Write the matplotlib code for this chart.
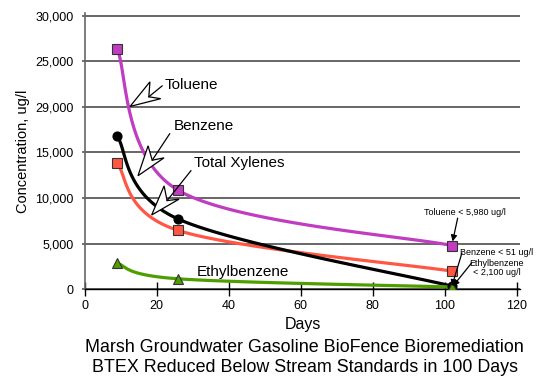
import numpy as np
import matplotlib
matplotlib.use("Agg")
import matplotlib.pyplot as plt
from matplotlib.patches import Polygon

plt.rcParams['font.family'] = ['Liberation Sans', 'DejaVu Sans']

# Sampling days and concentrations (ug/l)
days = [9, 26, 102]
toluene = [26400, 10850, 4800]
benzene = [16800, 7700, 350]
xylenes = [13800, 6450, 2000]
ethylbenzene = [2850, 1150, 250]

ytick_values = [0, 5000, 10000, 15000, 20000, 25000, 30000]
ytick_labels = ["0", "5,000", "10,000", "15,000", "29,000", "25,000", "30,000"]
xtick_values = [0, 20, 40, 60, 80, 100, 120]

XMAX, YMAX = 121, 30350

fig = plt.figure(figsize=(5.38, 3.80), dpi=100)
ax = fig.add_axes([84.7 / 538, (380 - 289.3) / 380, (520.3 - 84.7) / 538, (289.3 - 12.5) / 380])
ax.set_xlim(0, XMAX)
ax.set_ylim(0, YMAX)

W_PX = 520.3 - 84.7
H_PX = 289.3 - 12.5


def smooth(xs, ys, n=60):
    """Bezier smoothing through the points, computed in screen proportions."""
    sx = W_PX / XMAX
    sy = H_PX / YMAX
    P = np.column_stack([np.asarray(xs, float) * sx, np.asarray(ys, float) * sy])
    pts = []
    t = np.linspace(0, 1, n)[:, None]
    for i in range(len(P) - 1):
        p0, p3 = P[i], P[i + 1]
        prev = P[i - 1] if i > 0 else P[i]
        nxt = P[i + 2] if i + 2 < len(P) else P[i + 1]
        c1 = p0 + (p3 - prev) / 6
        c2 = p3 - (nxt - p0) / 6
        seg = ((1 - t) ** 3) * p0 + 3 * ((1 - t) ** 2) * t * c1 + 3 * (1 - t) * t ** 2 * c2 + t ** 3 * p3
        pts.append(seg if i == 0 else seg[1:])
    pts = np.vstack(pts)
    return pts[:, 0] / sx, pts[:, 1] / sy


# grid
for v in ytick_values:
    ax.axhline(v, color="#5a5a5a", lw=1.3, zorder=1)

series = [
    (toluene, "#C03CC0", "s", "#C03CC0"),
    (xylenes, "#FF5744", "s", "#FF5744"),
    (benzene, "#000000", "o", "#000000"),
    (ethylbenzene, "#4E9E00", "^", "#4E9E00"),
]
for vals, col, mk, fc in series:
    sx_, sy_ = smooth(days, vals)
    ax.plot(sx_, sy_, color=col, lw=2.3, zorder=3, solid_capstyle="round")
    ax.plot(days, vals, ls="none", marker=mk, ms=6.5 if mk != "^" else 7,
            mfc=fc, mec="#333333" if mk != "o" else "#000000", mew=0.8, zorder=4)

# axes styling
for s in ["top", "right"]:
    ax.spines[s].set_visible(False)
ax.spines["left"].set_color("#666666")
ax.spines["left"].set_linewidth(1.2)
ax.spines["bottom"].set_color("#000000")
ax.spines["bottom"].set_linewidth(1.0)

ax.set_yticks(ytick_values)
ax.set_yticklabels(ytick_labels)
ax.set_xticks(xtick_values)
ax.tick_params(axis="y", direction="out", length=2, width=1.2, color="#5a5a5a",
               labelsize=9, pad=6)
ax.tick_params(axis="x", direction="inout", length=10, width=1.0, color="#000000",
               labelsize=9, pad=3)

ax.set_xlabel("Days", fontsize=11.5, labelpad=3)
ax.set_ylabel("Concentration, ug/l", fontsize=10.5, labelpad=4)

fig.text(0.566, 1 - 347 / 380, "Marsh Groundwater Gasoline BioFence Bioremediation",
         ha="center", va="center", fontsize=12.9)
fig.text(0.566, 1 - 367 / 380, "BTEX Reduced Below Stream Standards in 100 Days",
         ha="center", va="center", fontsize=12.9)

fig.canvas.draw()


def callout(ax, label, text_xy, tip_xy, shaft_from):
    ax.text(text_xy[0], text_xy[1], label, ha="left", va="center", fontsize=11, zorder=6)
    tr = ax.transData
    T = tr.transform(tip_xy)
    S = tr.transform(shaft_from)
    d = (T - S) / np.linalg.norm(T - S)
    nrm = np.array([-d[1], d[0]])
    L, w = 30.0, 10.0
    B = T - d * L
    N = B + d * 9 + nrm * 2
    head = np.array([T, B + nrm * w, N, B - nrm * w])
    inv = tr.inverted()
    head_d = inv.transform(head)
    ax.add_patch(Polygon(head_d, closed=True, facecolor="white", edgecolor="black",
                         lw=0.9, zorder=6))
    nd = inv.transform(N)
    ax.plot([shaft_from[0], nd[0]], [shaft_from[1], nd[1]], color="black", lw=0.9, zorder=6)


callout(ax, "Toluene", (22.3, 22400), (12.6, 20050), (21.5, 22300))
callout(ax, "Benzene", (24.8, 17900), (14.8, 12450), (23.6, 17050))
callout(ax, "Total Xylenes", (30.4, 13800), (18.6, 8150), (29.5, 13000))

ax.text(31.2, 1930, "Ethylbenzene", ha="left", va="center", fontsize=11, zorder=6)

# end-point notes
small = dict(fontsize=6.5, ha="center", va="center", zorder=6)
ax.text(105.6, 8400, "Toluene < 5,980 ug/l", **small)
ax.annotate("", xy=(102.2, 5250), xytext=(103.6, 7800),
            arrowprops=dict(arrowstyle="-|>", color="black", lw=0.9,
                            mutation_scale=9, shrinkA=0, shrinkB=0), zorder=6)
ax.text(114.5, 4050, "Benzene < 51 ug/l", **small)
ax.text(114.5, 2350, "Ethylbenzene\n< 2,100 ug/l", linespacing=1.0, **small)
ax.annotate("", xy=(102.0, 350), xytext=(104.8, 4000),
            arrowprops=dict(arrowstyle="-|>", color="black", lw=0.9,
                            mutation_scale=9, shrinkA=0, shrinkB=0), zorder=6)
ax.annotate("", xy=(102.3, 350), xytext=(107.5, 2900),
            arrowprops=dict(arrowstyle="-|>", color="black", lw=0.9,
                            mutation_scale=9, shrinkA=0, shrinkB=0), zorder=6)

fig.savefig("out.png", dpi=100)
